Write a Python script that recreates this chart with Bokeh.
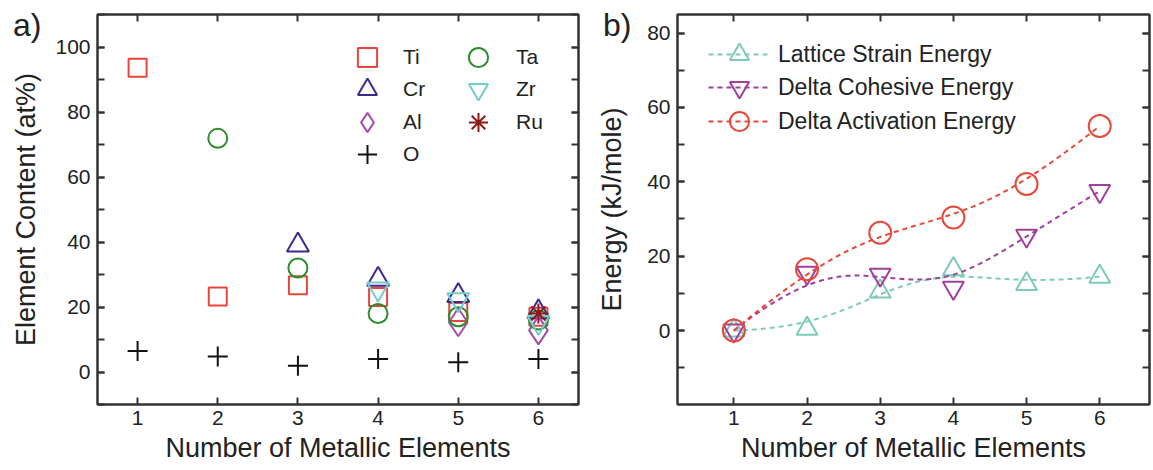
import numpy as np
from bokeh.plotting import figure
from bokeh.layouts import row
from bokeh.models import (Range1d, SingleIntervalTicker, LinearAxis, Legend,
                          LegendItem, CustomLabelingPolicy, Div)
from bokeh.embed import file_html
from bokeh.resources import INLINE

FONT = "Liberation Sans"
INK = "#222222"

# ---- (a) element content vs. number of metallic elements ----
n_ti = [1, 2, 3, 4, 5, 6]
ti = [93.6, 23.2, 26.7, 23.1, 18.5, 17.0]
n_cr = [3, 4, 5, 6]
cr = [39.0, 28.5, 23.5, 18.5]
n_al = [5, 6]
al = [15.3, 12.8]
n_o = [1, 2, 3, 4, 5, 6]
o = [6.5, 4.8, 1.9, 4.0, 3.0, 4.0]
n_ta = [2, 3, 4, 5, 6]
ta = [71.9, 32.0, 18.0, 17.0, 16.0]
n_zr = [4, 5, 6]
zr = [25.6, 22.3, 15.3]
n_ru = [6]
ru = [18.0]

# ---- (b) energies ----
n_b = [1, 2, 3, 4, 5, 6]
lattice = [0.0, 0.5, 10.5, 16.5, 12.5, 14.5]
cohesive = [0.0, 15.5, 15.0, 11.5, 25.5, 37.5]
activation = [0.0, 16.5, 26.3, 30.4, 39.4, 55.0]

x_ticks = [1, 2, 3, 4, 5, 6]

FRAME_BOTTOM = 404  # canvas y of both plot frames' bottom edge


def bspline(xs, ys, k=3, num=300):
    """Clamped cubic B-spline whose control polygon is the data series."""
    pts = np.column_stack([xs, ys]).astype(float)
    m = len(pts)
    knots = np.concatenate([np.zeros(k), np.arange(m - k + 1), np.full(k, m - k)]).astype(float)
    t = np.linspace(0.0, m - k, num)
    N = np.zeros((len(knots) - 1, num))
    for i in range(len(knots) - 1):
        N[i] = ((t >= knots[i]) & (t < knots[i + 1])).astype(float)
    N[m - 1, -1] = 1.0
    for p in range(1, k + 1):
        Nn = np.zeros((len(knots) - 1 - p, num))
        for i in range(len(knots) - 1 - p):
            d1 = knots[i + p] - knots[i]
            d2 = knots[i + p + 1] - knots[i + 1]
            a = (t - knots[i]) / d1 * N[i] if d1 > 0 else 0.0
            b = (knots[i + p + 1] - t) / d2 * N[i + 1] if d2 > 0 else 0.0
            Nn[i] = a + b
        N = Nn
    curve = N.T @ pts
    return curve[:, 0], curve[:, 1]


def tick_style(ax):
    ax.axis_line_color = "#333333"
    ax.axis_line_width = 2
    ax.major_tick_line_color = "#333333"
    ax.minor_tick_line_color = "#333333"
    ax.major_tick_line_width = 2
    ax.minor_tick_line_width = 2
    ax.major_tick_in = 7
    ax.major_tick_out = 0
    ax.minor_tick_in = 7
    ax.minor_tick_out = 0


def style(p, xlabel, ylabel, ylab_standoff):
    p.xgrid.visible = False
    p.ygrid.visible = False
    p.outline_line_color = "#333333"
    p.outline_line_width = 2
    p.background_fill_color = "white"
    p.border_fill_color = "white"
    for ax in p.xaxis + p.yaxis:
        tick_style(ax)
        ax.major_label_text_font = FONT
        ax.major_label_text_font_size = "21px"
        ax.major_label_text_color = INK
        ax.axis_label_text_font = FONT
        ax.axis_label_text_font_size = "27px"
        ax.axis_label_text_font_style = "normal"
        ax.axis_label_text_color = INK
        ax.major_label_standoff = 7
    p.xaxis.axis_label = xlabel
    p.yaxis.axis_label = ylabel
    p.xaxis.major_label_standoff = 6
    p.xaxis.axis_label_standoff = 5
    p.yaxis.axis_label_standoff = ylab_standoff
    p.xaxis.ticker = x_ticks
    p.xaxis.minor_tick_line_color = None

    # mirrored tick marks (no labels) on the top and right edges of the frame
    hide_all = CustomLabelingPolicy(
        code="for (let i = 0; i < indices.size; i++) { indices.unset(i) }\nreturn indices")
    top = LinearAxis(ticker=x_ticks, major_label_policy=hide_all)
    right = LinearAxis(ticker=p.yaxis[0].ticker, major_label_policy=hide_all)
    for ax in (top, right):
        tick_style(ax)
        ax.major_label_text_font_size = "1px"
        ax.major_label_standoff = 0
    top.minor_tick_line_color = None
    p.add_layout(top, "above")
    p.add_layout(right, "right")


def legend_entry(label, renderers, vx, cy, glyph_w, glyph_h, standoff, size):
    """One legend row whose glyph box starts vx px right of the frame and is centred on canvas y=cy."""
    lg = Legend(items=[LegendItem(label=label, renderers=renderers)],
                location=(vx, FRAME_BOTTOM - (cy + glyph_h // 2)), orientation="vertical")
    lg.glyph_width = glyph_w
    lg.glyph_height = glyph_h
    lg.label_height = glyph_h
    lg.spacing = 0
    lg.label_standoff = standoff
    lg.padding = 0
    lg.margin = 0
    lg.border_line_alpha = 0
    lg.background_fill_alpha = 0
    lg.label_text_font = FONT
    lg.label_text_font_size = size
    lg.label_text_color = INK
    return lg


def panel_tag(text, left, top):
    """Panel letter placed over the page, outside the plot frame."""
    return Div(text=text, width=40, height=40,
               styles={"position": "absolute", "left": f"{left}px", "top": f"{top}px",
                       "font-family": FONT, "font-size": "32px", "line-height": "1",
                       "color": INK, "margin": "0", "padding": "0", "z-index": "10"})


# ---------------- panel (a) ----------------
pa = figure(width=594, height=470, output_backend="svg", toolbar_location=None,
            x_range=Range1d(0.5, 6.5), y_range=Range1d(-10, 110),
            min_border_left=97, min_border_right=16, min_border_top=14,
            min_border_bottom=66)
pa.yaxis.ticker = SingleIntervalTicker(interval=20, num_minor_ticks=2)
style(pa, "Number of Metallic Elements", "Element Content (at%)", 11)

LW = 2
r_ti = pa.scatter(n_ti, ti, marker="square", size=18, fill_color=None,
                  line_color="#e8453c", line_width=LW)
r_cr = pa.scatter(n_cr, cr, marker="triangle", size=22, fill_color=None,
                  line_color="#3a2b8f", line_width=LW)
r_al = pa.scatter(n_al, al, marker="diamond", size=28, fill_color=None,
                  line_color="#a64ca6", line_width=LW)
r_o = pa.scatter(n_o, o, marker="cross", size=20, line_color="#111111", line_width=LW)
r_ta = pa.scatter(n_ta, ta, marker="circle", size=19, fill_color=None,
                  line_color="#2d8c2d", line_width=LW)
r_zr = pa.scatter(n_zr, zr, marker="inverted_triangle", size=22, fill_color=None,
                  line_color="#74cccb", line_width=LW)
r_ru = pa.scatter(n_ru, ru, marker="asterisk", size=20, line_color="#8b1a1a", line_width=LW)

legend_a = [
    ("Ti", r_ti, 246, 57, 12), ("Cr", r_cr, 246, 89, 12),
    ("Al", r_al, 246, 122, 12), ("O", r_o, 246, 154, 12),
    ("Ta", r_ta, 357, 57, 14), ("Zr", r_zr, 357, 89, 14),
    ("Ru", r_ru, 357, 122, 14),
]
for lab, rend, vx, cy, so in legend_a:
    pa.add_layout(legend_entry(lab, [rend], vx, cy, 48, 48, so, "21px"))

# ---------------- panel (b) ----------------
pb = figure(width=559, height=470, output_backend="svg", toolbar_location=None,
            x_range=Range1d(0.23, 6.68), y_range=Range1d(-19.9, 85),
            min_border_left=80, min_border_right=1, min_border_top=14,
            min_border_bottom=66)
pb.yaxis.ticker = SingleIntervalTicker(interval=20, num_minor_ticks=2)
style(pb, "Number of Metallic Elements", "Energy (kJ/mole)", 17)

series_b = [
    ("Lattice Strain Energy", lattice, "#7ecab8", "triangle", 54),
    ("Delta Cohesive Energy", cohesive, "#a0409c", "inverted_triangle", 87),
    ("Delta Activation Energy", activation, "#e8483a", "circle", 121),
]
for name, vals, col, mk, cy in series_b:
    cx, cyv = bspline(n_b, vals)
    rl = pb.line(cx, cyv, line_color=col, line_width=2, line_dash="5 4")
    size = 22 if mk == "circle" else 21
    rs = pb.scatter(n_b, vals, marker=mk, size=size, fill_color=None,
                    line_color=col, line_width=2)
    pb.add_layout(legend_entry(name, [rl, rs], 31, cy, 62, 48, 8, "23px"))

layout = row(pa, pb, panel_tag("a)", 13, 9), panel_tag("b)", 603, 9))
open("out.html", "w").write(file_html(layout, INLINE))
